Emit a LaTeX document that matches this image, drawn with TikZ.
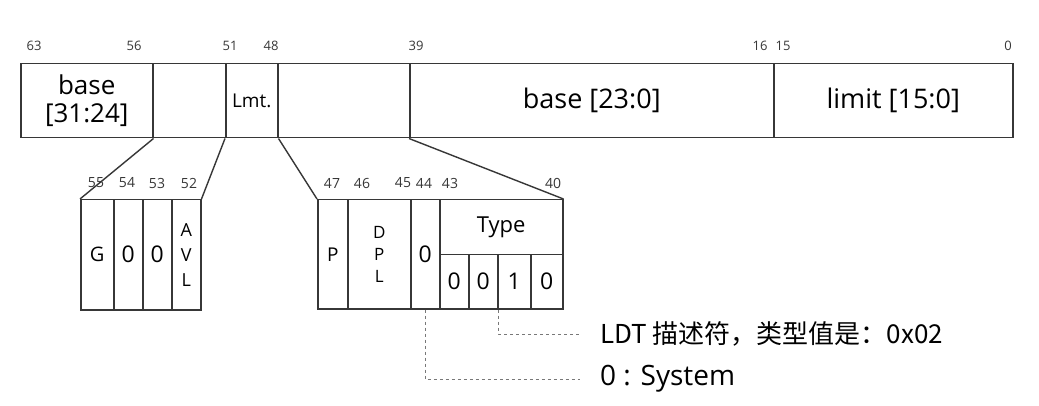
\documentclass[tikz,border=0pt]{standalone}
\usepackage{fontspec}
\setmainfont{Open Sans}
\newfontfamily\cjk{Noto Sans CJK SC}
\usetikzlibrary{positioning}
\definecolor{ink}{RGB}{55,55,55}
\definecolor{lead}{RGB}{120,120,120}

\tikzset{
  field/.style={draw=ink, line width=1.5pt, rectangle, inner sep=0pt, anchor=north west, align=center},
  bitno/.style={font=\fontsize{13}{14}\selectfont, inner sep=0pt, text=ink},
  link/.style={draw=ink, line width=1.4pt},
  leader/.style={draw=lead, dashed, line width=0.9pt}
}

\begin{document}
\begin{tikzpicture}[x=1pt,y=-1pt]
  \useasboundingbox[fill=white] (0,0) rectangle (1039,406);
  % upper descriptor word
  \node[field, minimum width=132pt, minimum height=74pt, font=\fontsize{26}{28}\selectfont] (bhi) at (20,63) {base\\ {[31:24]}};
  \node[field, minimum width=73pt, minimum height=74pt] (flg) at (152,63) {};
  \node[field, minimum width=52pt, minimum height=74pt, font=\fontsize{19}{22}\selectfont] (lmt) at (225,63) {Lmt.};
  \node[field, minimum width=132pt, minimum height=74pt] (acc) at (277,63) {};
  \node[field, minimum width=364pt, minimum height=74pt, font=\fontsize{27}{28}\selectfont] (blo) at (409,63) {base [23:0]};
  \node[field, minimum width=239pt, minimum height=74pt, font=\fontsize{27}{28}\selectfont] (llo) at (773,63) {limit [15:0]};

  \node[bitno] (n63) at (34,46) {63};
  \node[bitno] (n56) at (134,46) {56};
  \node[bitno] (n51) at (230,46) {51};
  \node[bitno] (n48) at (271,46) {48};
  \node[bitno] (n39) at (416,46) {39};
  \node[bitno] (n16) at (760,46) {16};
  \node[bitno] (n15) at (783,46) {15};
  \node[bitno] (n0) at (1008,46) {0};

  % flags, bits 55..52
  \node[field, minimum width=33pt, minimum height=110pt, font=\fontsize{20}{22}\selectfont] (g) at (80,199) {G};
  \node[field, minimum width=29pt, minimum height=110pt, font=\fontsize{23}{24}\selectfont] (z1) at (113,199) {0};
  \node[field, minimum width=29pt, minimum height=110pt, font=\fontsize{23}{24}\selectfont] (z2) at (142,199) {0};
  \node[field, minimum width=29pt, minimum height=110pt, font=\fontsize{18}{25}\selectfont] (avl) at (171,199) {A\\V\\L};

  \node[bitno, font=\fontsize{14}{14}\selectfont] (n55) at (96,183) {55};
  \node[bitno, font=\fontsize{14}{14}\selectfont] (n54) at (127,183) {54};
  \node[bitno, font=\fontsize{14}{14}\selectfont] (n53) at (157,183) {53};
  \node[bitno, font=\fontsize{14}{14}\selectfont] (n52) at (189,183) {52};

  % access byte, bits 47..40
  \node[field, minimum width=30pt, minimum height=109pt, font=\fontsize{19}{22}\selectfont] (p) at (317,199) {P};
  \node[field, minimum width=63pt, minimum height=109pt, font=\fontsize{17}{22}\selectfont] (dpl) at (347,199) {D\\P\\L};
  \node[field, minimum width=29pt, minimum height=109pt, font=\fontsize{23}{24}\selectfont] (s) at (410,199) {0};
  \node[field, minimum width=123pt, minimum height=55pt, font=\fontsize{22}{24}\selectfont] (type) at (439,199) {Type};
  \node[field, minimum width=29pt, minimum height=54pt, font=\fontsize{23}{24}\selectfont] (t3) at (439,254) {0};
  \node[field, minimum width=29pt, minimum height=54pt, font=\fontsize{23}{24}\selectfont] (t2) at (468,254) {0};
  \node[field, minimum width=33pt, minimum height=54pt, font=\fontsize{23}{24}\selectfont] (t1) at (497,254) {1};
  \node[field, minimum width=32pt, minimum height=54pt, font=\fontsize{23}{24}\selectfont] (t0) at (530,254) {0};

  \node[bitno, font=\fontsize{14}{14}\selectfont] (n47) at (332,183) {47};
  \node[bitno, font=\fontsize{14}{14}\selectfont] (n46) at (362,183) {46};
  \node[bitno, font=\fontsize{14}{14}\selectfont] (n45) at (403,183) {45};
  \node[bitno, font=\fontsize{14}{14}\selectfont] (n44) at (424,183) {44};
  \node[bitno, font=\fontsize{14}{14}\selectfont] (n43) at (450,183) {43};
  \node[bitno, font=\fontsize{14}{14}\selectfont] (n40) at (553,183) {40};

  % zoom lines
  \draw[link] (bhi.south east) -- (g.north west);
  \draw[link] (lmt.south west) -- (avl.north east);
  \draw[link] (lmt.south east) -- (p.north west);
  \draw[link] (blo.south west) -- (type.north east);

  % notes
  \node[anchor=west, inner sep=0pt, font=\fontsize{26}{28}\cjk] (ldt) at (600,334) {LDT 描述符，类型值是：0x02};
  \node[anchor=west, inner sep=0pt, font=\fontsize{28}{30}\selectfont] (sys) at (600,379) {0 : System};
  \draw[leader] (t2.south east) |- ([xshift=-20pt]ldt.west);
  \draw[leader] (s.south) |- ([xshift=-20pt]sys.west);
\end{tikzpicture}
\end{document}
